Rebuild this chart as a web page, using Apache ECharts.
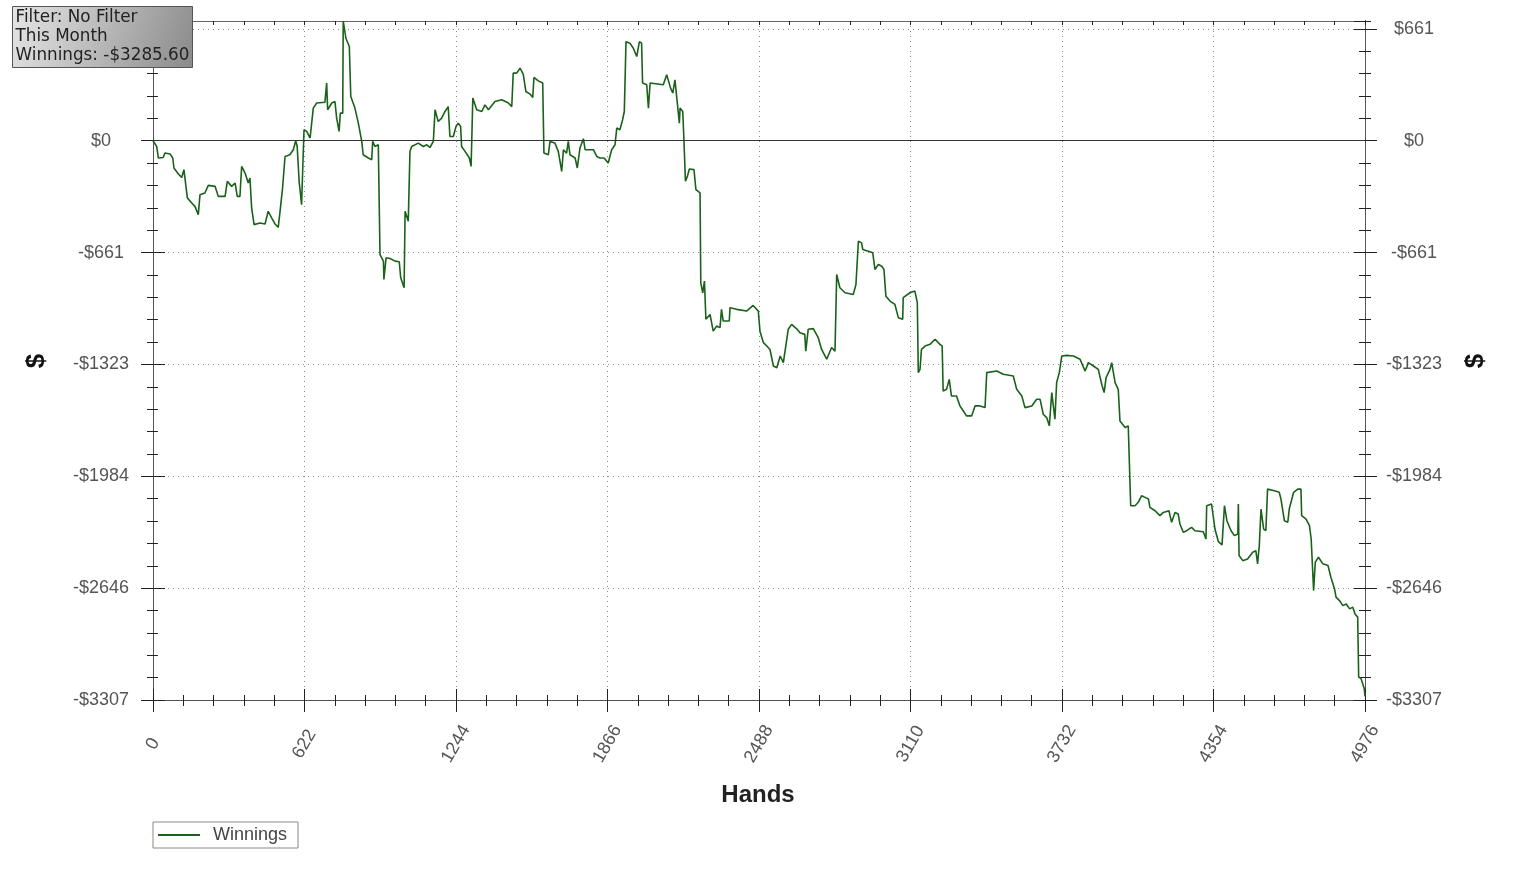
<!DOCTYPE html>
<html>
<head>
<meta charset="utf-8">
<script src="https://cdn.jsdelivr.net/npm/echarts@6.0.0/dist/echarts.min.js"></script>
<style>
html,body{margin:0;padding:0;background:#fff;}
#chart{width:1527px;height:872px;}
</style>
</head>
<body>
<div id="chart"></div>
<script>
// ---- data ----
const hands = [
0,15,22,42,49,70,81,86,104,118,
127,135,141,159,172,186,193,213,227,255,
268,296,305,323,337,346,357,364,378,391,
398,405,415,439,460,473,487,501,514,521,
532,542,562,576,586,592,600,610,617,620,
631,645,652,658,672,706,713,717,734,747,
754,764,769,779,781,792,806,812,829,843,
857,863,884,898,902,911,925,932,946,948,
957,973,994,1011,1017,1031,1035,1042,1048,1055,
1062,1089,1110,1124,1137,1151,1158,1171,1185,1199,
1212,1219,1233,1244,1253,1263,1267,1281,1299,1306,
1313,1329,1350,1363,1377,1404,1432,1459,1473,1479,
1493,1507,1520,1531,1548,1559,1564,1582,1600,1605,
1623,1630,1650,1664,1678,1685,1698,1705,1712,1733,
1742,1753,1767,1774,1808,1822,1835,1852,1869,1883,
1897,1904,1917,1928,1935,1942,1958,1972,1986,1997,
2006,2010,2027,2034,2041,2095,2109,2116,2125,2134,
2143,2150,2161,2164,2175,2180,2186,2194,2202,2221,
2229,2246,2249,2257,2264,2270,2287,2294,2300,2314,
2328,2334,2341,2366,2369,2396,2437,2464,2485,2492,
2506,2520,2533,2547,2561,2575,2581,2588,2608,2622,
2645,2656,2676,2680,2690,2711,2731,2745,2766,2786,
2800,2807,2820,2841,2875,2886,2896,2909,2914,2937,
2955,2964,2978,2992,3001,3009,3026,3046,3060,3078,
3080,3108,3128,3138,3142,3149,3155,3170,3190,
3211,3231,3240,3244,3258,3269,3278,3299,3313,3327,
3340,3361,3375,3395,3416,3423,3464,3491,3532,3546,
3567,3580,3608,3628,3642,3655,3669,3680,3690,3696,
3703,3710,3721,3731,3751,3779,3806,3827,3840,3861,
3881,3895,3905,3913,3929,3936,3950,3963,3970,3991,
4004,4011,4014,4032,4045,4059,4073,4087,4093,4114,
4134,4148,4171,4182,4196,4209,4216,4230,4244,4264,
4278,4312,4323,4326,4346,4360,4374,4389,4395,4399,
4409,4426,4440,4454,4456,4459,4474,4494,4515,4528,
4535,4542,4549,4560,4569,4576,4604,4624,4631,4645,
4659,4665,4672,4683,4700,4713,4716,4734,4748,4755,
4765,4772,4785,4803,4824,4836,4851,4857,4871,4885,
4899,4913,4926,4935,4946,4950,4960,4973,4976
];
const winnings = [
0,-34,-102,-99,-73,-78,-102,-161,-197,-217,
-171,-171,-338,-368,-388,-437,-319,-309,-264,-270,
-329,-329,-240,-270,-250,-329,-329,-152,-191,-250,
-220,-397,-496,-486,-492,-417,-456,-492,-512,-427,
-279,-93,-83,-53,0,-34,-240,-378,-378,65,
55,16,6,193,223,228,341,183,223,232,
134,55,163,163,708,606,557,261,193,104,
-4,-83,-102,-112,-4,-34,-24,-673,-712,-820,
-692,-696,-712,-716,-810,-869,-417,-417,-476,-63,
-34,-14,-34,-24,-40,-4,183,114,134,173,
202,25,25,84,104,84,-34,-63,-102,-152,
252,183,173,212,183,232,242,223,202,400,
400,429,394,291,276,256,374,354,341,-73,
-83,-4,-14,-63,-181,-53,-73,-4,-83,-102,
-161,-43,12,-53,-53,-93,-102,-102,-132,-53,
-24,75,65,124,173,586,577,547,498,586,
577,341,331,193,341,331,390,400,311,282,
360,350,104,193,173,-4,-240,-211,-167,-171,
-289,-309,-840,-899,-830,-1056,-1027,-1037,-1126,-1096,
-1105,-997,-1066,-1066,-987,-997,-1007,-974,-1007,-1126,
-1194,-1214,-1234,-1332,-1342,-1273,-1263,-1312,-1115,-1086,
-1115,-1135,-1145,-1244,-1115,-1111,-1164,-1234,-1292,-1223,
-1244,-791,-869,-899,-909,-850,-594,-604,-643,-653,
-663,-761,-732,-742,-761,-919,-948,-968,-1046,-1056,
-928,-899,-889,-958,-1371,-1352,-1234,-1214,-1204,
-1174,-1204,-1214,-1480,-1470,-1411,-1509,-1509,-1568,-1598,
-1627,-1627,-1568,-1568,-1578,-1371,-1362,-1381,-1391,-1470,
-1509,-1578,-1568,-1529,-1529,-1617,-1637,-1686,-1489,-1480,
-1647,-1430,-1371,-1273,-1269,-1273,-1292,-1362,-1312,-1332,
-1352,-1440,-1489,-1401,-1352,-1312,-1430,-1470,-1657,-1696,
-1686,-1696,-2158,-2158,-2138,-2099,-2109,-2119,-2168,-2188,
-2217,-2198,-2188,-2256,-2198,-2207,-2266,-2315,-2306,-2286,
-2306,-2312,-2355,-2158,-2148,-2296,-2371,-2390,-2394,-2158,
-2247,-2306,-2335,-2325,-2148,-2453,-2483,-2473,-2433,-2424,
-2502,-2394,-2178,-2296,-2306,-2060,-2070,-2079,-2119,-2247,
-2256,-2178,-2188,-2079,-2060,-2060,-2217,-2237,-2276,-2355,
-2660,-2492,-2463,-2502,-2512,-2581,-2650,-2699,-2719,-2749,
-2739,-2768,-2758,-2798,-2817,-3171,-3181,-3240,-3285.6
];
const seriesName = 'Winnings';
const xMin = 0, xMax = 4976, xStep = 622;
const yMin = -3307, yMax = 708, yStep = 661.4;
const infoLines = ['Filter: No Filter', 'This Month', 'Winnings: -$3285.60'];
const xTitle = 'Hands';
const yTitle = '$';

// ---- chart ----
const chart = echarts.init(document.getElementById('chart'), null, {renderer: 'canvas'});
const seriesData = hands.map((h, i) => [h, winnings[i]]);

const AXIS_COLOR = '#555';
const TICK_COLOR = '#222';
const LABEL_FONT = 'Liberation Sans, Arial, sans-serif';
const GRID_LINE = {show: true, lineStyle: {color: '#8a8a8a', type: [1, 4], width: 1}};
const fmtDollar = v => {
  const r = Math.round(Math.abs(v));
  return (v < -0.5 ? '-$' : '$') + r;
};

function yAx(pos, interval, inside, len, withLabel, withSplit) {
  return {
    type: 'value', position: pos, min: yMin, max: yMax, interval: interval,
    axisLine: {show: true, onZero: false, lineStyle: {color: AXIS_COLOR, width: 1}},
    axisTick: {show: true, inside: inside, length: len, lineStyle: {color: TICK_COLOR, width: 1}},
    axisLabel: withLabel ? {
      show: true, formatter: fmtDollar, showMaxLabel: false,
      color: '#555', fontSize: 18, fontFamily: LABEL_FONT,
      align: 'center', margin: pos === 'left' ? 52 : 49
    } : {show: false},
    splitLine: withSplit ? GRID_LINE : {show: false}
  };
}

const yAxes = [
  yAx('left', yStep, false, 12, true, true),
  yAx('left', yStep, true, 12, false, false),
  yAx('left', yStep / 5, false, 6, false, false),
  yAx('left', yStep / 5, true, 5, false, false),
  yAx('right', yStep, false, 12, true, false),
  yAx('right', yStep, true, 11, false, false),
  yAx('right', yStep / 5, false, 6, false, false),
  yAx('right', yStep / 5, true, 6, false, false)
];

const xAxes = [
  {
    type: 'value', position: 'bottom', min: xMin, max: xMax, interval: xStep,
    axisLine: {show: true, onZero: false, lineStyle: {color: AXIS_COLOR, width: 1}},
    axisTick: {show: true, inside: false, length: 12, lineStyle: {color: TICK_COLOR}},
    minorTick: {show: true, splitNumber: 5, length: 6, lineStyle: {color: TICK_COLOR}},
    axisLabel: {show: true, rotate: 60, align: 'center', verticalAlign: 'middle', margin: 44,
      formatter: v => String(Math.round(v)),
      color: '#555', fontSize: 18, fontFamily: LABEL_FONT},
    splitLine: GRID_LINE
  },
  {
    type: 'value', position: 'bottom', min: xMin, max: xMax, interval: xStep,
    axisLine: {show: false, onZero: false},
    axisTick: {show: true, inside: true, length: 11, lineStyle: {color: TICK_COLOR}},
    minorTick: {show: true, splitNumber: 5, length: 5, lineStyle: {color: TICK_COLOR}},
    axisLabel: {show: false}, splitLine: {show: false}
  },
  {
    type: 'value', position: 'top', min: xMin, max: xMax, interval: xStep / 5,
    axisLine: {show: true, onZero: false, lineStyle: {color: '#666', width: 1}},
    axisTick: {show: true, inside: true, length: 4, lineStyle: {color: TICK_COLOR}},
    axisLabel: {show: false}, splitLine: {show: false}
  }
];

const BOX_FONT = '16.8px "DejaVu Sans", sans-serif';
const option = {
  animation: false,
  backgroundColor: '#ffffff',
  grid: {left: 153, right: 162, top: 21, bottom: 172, containLabel: false},
  xAxis: xAxes,
  yAxis: yAxes,
  legend: {
    data: [seriesName], left: 153, top: 822,
    orient: 'horizontal',
    icon: 'rect', itemWidth: 42, itemHeight: 2,
    padding: [4, 11, 4, 5],
    borderColor: '#8a8a8a', borderWidth: 1, backgroundColor: '#fff',
    textStyle: {color: '#444', fontSize: 18, fontFamily: LABEL_FONT, padding: [0, 0, 0, 8]},
    selectedMode: false
  },
  series: [{
    name: seriesName, type: 'line', xAxisIndex: 0, yAxisIndex: 0,
    data: seriesData, showSymbol: false, symbol: 'none',
    lineStyle: {color: '#1a621a', width: 1.6},
    itemStyle: {color: '#1a621a'},
    markLine: {
      silent: true, symbol: 'none', label: {show: false},
      lineStyle: {color: '#333', type: 'solid', width: 1.2},
      data: [{yAxis: 0}]
    },
    z: 3
  }],
  graphic: [
    {
      type: 'group', left: 12, top: 6, zlevel: 5, z: 1000,
      children: [
        {type: 'rect', zlevel: 5, z: 1000, shape: {x: 0, y: 0, width: 180, height: 61},
          style: {
            fill: new echarts.graphic.LinearGradient(0, 0, 1, 1, [
              {offset: 0, color: '#e6e6e6'}, {offset: 1, color: '#8a8a8a'}
            ]),
            stroke: '#555', lineWidth: 1
          }},
        {type: 'text', zlevel: 5, z: 1001, x: 3, y: 3, style: {text: infoLines[0], fill: '#222', font: BOX_FONT}},
        {type: 'text', zlevel: 5, z: 1001, x: 3, y: 22, style: {text: infoLines[1], fill: '#222', font: BOX_FONT}},
        {type: 'text', zlevel: 5, z: 1001, x: 3, y: 41, style: {text: infoLines[2], fill: '#222', font: BOX_FONT}}
      ]
    },
    {type: 'text', x: 758, y: 795, z: 50,
      style: {text: xTitle, fill: '#222', font: 'bold 24px "Liberation Sans", Arial, sans-serif', align: 'center', verticalAlign: 'middle'}},
    {type: 'text', x: 37, y: 361, rotation: Math.PI / 2, z: 50,
      style: {text: yTitle, fill: '#111', font: 'bold 26px "Liberation Sans", Arial, sans-serif', align: 'center', verticalAlign: 'middle'}},
    {type: 'text', x: 1476, y: 361, rotation: Math.PI / 2, z: 50,
      style: {text: yTitle, fill: '#111', font: 'bold 26px "Liberation Sans", Arial, sans-serif', align: 'center', verticalAlign: 'middle'}}
  ]
};
chart.setOption(option);
</script>
</body>
</html>
